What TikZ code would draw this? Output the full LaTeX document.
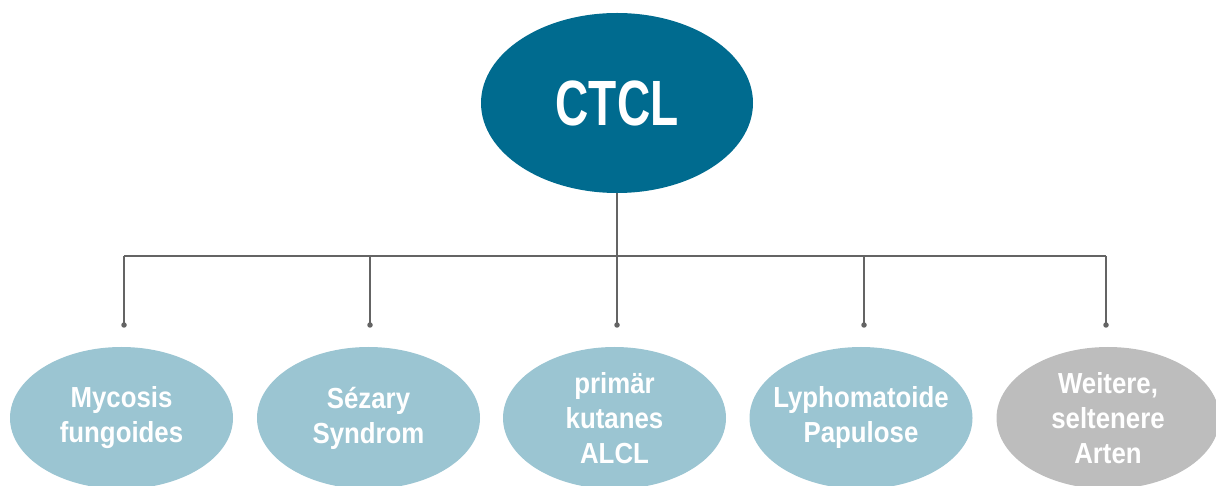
\documentclass[tikz,border=0pt]{standalone}
\usepackage{fontspec}
\setmainfont{Liberation Sans}[FakeStretch=0.89]
\newfontfamily\titlefont{Liberation Sans}[FakeStretch=0.72]
\usetikzlibrary{shapes.geometric}
\definecolor{ctclblue}{RGB}{0,107,143}
\definecolor{subblue}{RGB}{155,197,210}
\definecolor{subgray}{RGB}{189,189,189}
\definecolor{linegray}{RGB}{100,100,100}
\tikzset{
  rootnode/.style={ellipse, fill=ctclblue, minimum width=272pt, minimum height=180pt, inner sep=0pt, text=white, font=\titlefont\bfseries\fontsize{64}{70}\selectfont},
  childnode/.style={ellipse, fill=subblue, minimum width=223pt, minimum height=142pt, inner sep=0pt},
  othernode/.style={childnode, fill=subgray},
  childtext/.style={inner sep=0pt, text=white, align=center, font=\bfseries\fontsize{29}{35}\selectfont},
  conn/.style={draw=linegray, line width=1.5pt},
  tipdot/.style={circle, fill=linegray, inner sep=0pt, minimum size=5.5pt}
}
\begin{document}
\begin{tikzpicture}[x=1pt,y=1pt]
\useasboundingbox (0,0) rectangle (1216,485);
\clip (0,0) rectangle (1216,485);
\node[rootnode] (root) at (617,382) {CTCL};
\node[childnode] (c1) at (121.5,67) {};
\node[childnode] (c2) at (368.5,67) {};
\node[childnode] (c3) at (614.5,67) {};
\node[childnode] (c4) at (861,67) {};
\node[othernode] (c5) at (1108,67) {};
\node[childtext] (t1) at (c1) {Mycosis\\fungoides};
\node[childtext] (t2) at (c2) {Sézary\\Syndrom};
\node[childtext] (t3) at (c3) {primär\\kutanes\\ALCL};
\node[childtext] (t4) at (c4) {Lyphomatoide\\Papulose};
\node[childtext] (t5) at (c5) {Weitere,\\seltenere\\Arten};
\coordinate (hub) at (617,229);
\coordinate (j1) at (124,229);
\coordinate (j2) at (370,229);
\coordinate (j3) at (617,229);
\coordinate (j4) at (864,229);
\coordinate (j5) at (1106,229);
\node[tipdot] (d1) at (124,160) {};
\node[tipdot] (d2) at (370,160) {};
\node[tipdot] (d3) at (617,160) {};
\node[tipdot] (d4) at (864,160) {};
\node[tipdot] (d5) at (1106,160) {};
\draw[conn] (root.south) -- (hub);
\draw[conn] (j1) -- (j5);
\foreach \i in {1,...,5}{\draw[conn] (j\i) -- (d\i.center);}
\end{tikzpicture}
\end{document}
